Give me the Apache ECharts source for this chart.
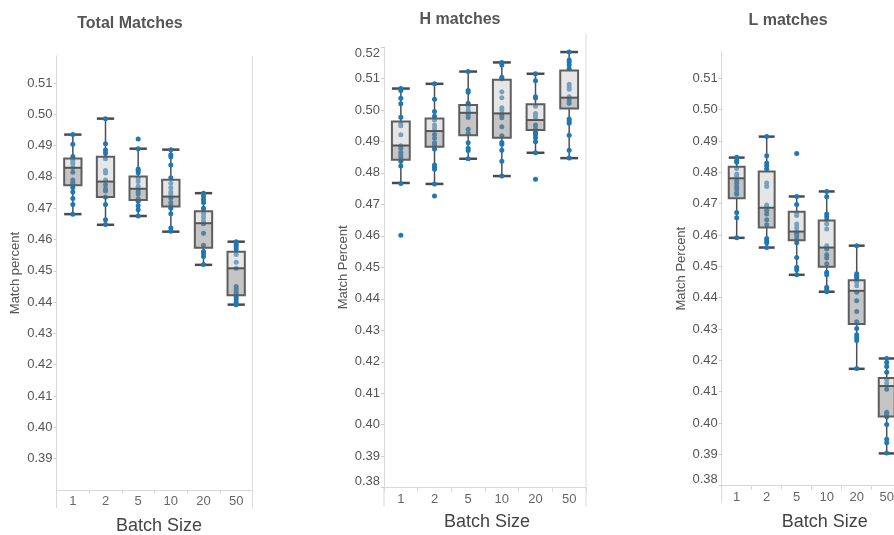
<!DOCTYPE html>
<html><head><meta charset="utf-8">
<script src="https://cdn.jsdelivr.net/npm/echarts@6/dist/echarts.min.js"></script>
<style>html,body{margin:0;padding:0;background:#fff}#c{width:894px;height:535px}</style>
</head><body><div id="c"></div>
<script>
const categories = ['1', '2', '5', '10', '20', '50'];
const panelTitles = ['Total Matches', 'H matches', 'L matches'];
const yAxisNames = ['Match percent', 'Match Percent', 'Match Percent'];
const xAxisName = 'Batch Size';
const yMin = [0.38, 0.38, 0.38];
const yMax = [0.5186, 0.52, 0.5185];

// box stats per batch size: [lower whisker, Q1, median, Q3, upper whisker]
const totalBoxes = [
  [0.4681, 0.4773, 0.4829, 0.4859, 0.4935],
  [0.4647, 0.4736, 0.4785, 0.4864, 0.4986],
  [0.4675, 0.4726, 0.4762, 0.4801, 0.4890],
  [0.4625, 0.4705, 0.4737, 0.4791, 0.4887],
  [0.4519, 0.4574, 0.4652, 0.4690, 0.4748],
  [0.4392, 0.4422, 0.4508, 0.4561, 0.4593]
];
const hBoxes = [
  [0.4768, 0.4842, 0.4887, 0.4963, 0.5068],
  [0.4765, 0.4883, 0.4933, 0.4973, 0.5083],
  [0.4845, 0.4920, 0.4991, 0.5016, 0.5122],
  [0.4790, 0.4912, 0.4989, 0.5096, 0.5151],
  [0.4864, 0.4936, 0.4968, 0.5018, 0.5115],
  [0.4847, 0.5005, 0.5039, 0.5125, 0.5184]
];
const lBoxes = [
  [0.4591, 0.4717, 0.4781, 0.4818, 0.4847],
  [0.4560, 0.4624, 0.4687, 0.4803, 0.4914],
  [0.4473, 0.4583, 0.4611, 0.4674, 0.4723],
  [0.4419, 0.4499, 0.4560, 0.4646, 0.4739],
  [0.4173, 0.4316, 0.4422, 0.4456, 0.4566],
  [0.3903, 0.4021, 0.4118, 0.4144, 0.4206]
];

// individual runs per batch size
const totalPoints = [
  [0.4935, 0.4904, 0.4865, 0.4858, 0.4850, 0.4842, 0.4830, 0.4815, 0.4790, 0.4782, 0.4776, 0.4766, 0.4752, 0.4731, 0.4712, 0.4681],
  [0.4986, 0.4906, 0.4886, 0.4876, 0.4862, 0.4858, 0.4820, 0.4812, 0.4790, 0.4775, 0.4762, 0.4755, 0.4736, 0.4712, 0.4663, 0.4648],
  [0.4921, 0.4890, 0.4825, 0.4820, 0.4813, 0.4795, 0.4785, 0.4770, 0.4760, 0.4752, 0.4745, 0.4730, 0.4722, 0.4708, 0.4695, 0.4675],
  [0.4887, 0.4871, 0.4864, 0.4838, 0.4797, 0.4780, 0.4765, 0.4752, 0.4745, 0.4732, 0.4718, 0.4708, 0.4700, 0.4682, 0.4637, 0.4626],
  [0.4748, 0.4738, 0.4728, 0.4718, 0.4700, 0.4690, 0.4682, 0.4672, 0.4660, 0.4650, 0.4620, 0.4582, 0.4562, 0.4555, 0.4546, 0.4520],
  [0.4593, 0.4585, 0.4578, 0.4570, 0.4552, 0.4527, 0.4508, 0.4450, 0.4443, 0.4436, 0.4428, 0.4418, 0.4410, 0.4400, 0.4392]
];
const hPoints = [
  [0.5068, 0.5062, 0.5037, 0.5020, 0.4977, 0.4955, 0.4950, 0.4921, 0.4886, 0.4878, 0.4865, 0.4857, 0.4849, 0.4837, 0.4822, 0.4766, 0.4602],
  [0.5083, 0.5034, 0.4995, 0.4980, 0.4968, 0.4952, 0.4942, 0.4922, 0.4910, 0.4896, 0.4888, 0.4876, 0.4825, 0.4818, 0.4812, 0.4765, 0.4727],
  [0.5122, 0.5062, 0.5056, 0.5021, 0.5012, 0.5000, 0.4992, 0.4984, 0.4976, 0.4939, 0.4926, 0.4896, 0.4878, 0.4871, 0.4845],
  [0.5151, 0.5143, 0.5104, 0.5098, 0.5058, 0.5039, 0.5007, 0.5000, 0.4989, 0.4982, 0.4975, 0.4947, 0.4918, 0.4897, 0.4891, 0.4872, 0.4837, 0.4790],
  [0.5115, 0.5093, 0.5042, 0.5038, 0.5012, 0.4989, 0.4982, 0.4975, 0.4952, 0.4940, 0.4929, 0.4922, 0.4912, 0.4899, 0.4864, 0.4780],
  [0.5184, 0.5159, 0.5152, 0.5143, 0.5131, 0.5082, 0.5074, 0.5066, 0.5042, 0.5032, 0.5021, 0.4971, 0.4965, 0.4958, 0.4920, 0.4872, 0.4847]
];
const lPoints = [
  [0.4848, 0.4838, 0.4832, 0.4812, 0.4795, 0.4790, 0.4783, 0.4773, 0.4765, 0.4755, 0.4747, 0.4736, 0.4730, 0.4672, 0.4655, 0.4591],
  [0.4914, 0.4853, 0.4830, 0.4821, 0.4811, 0.4766, 0.4755, 0.4696, 0.4690, 0.4678, 0.4667, 0.4649, 0.4633, 0.4589, 0.4582, 0.4575, 0.4560],
  [0.4860, 0.4723, 0.4697, 0.4670, 0.4662, 0.4635, 0.4624, 0.4612, 0.4606, 0.4598, 0.4587, 0.4575, 0.4528, 0.4497, 0.4489, 0.4473],
  [0.4739, 0.4722, 0.4667, 0.4658, 0.4648, 0.4635, 0.4619, 0.4566, 0.4555, 0.4537, 0.4527, 0.4508, 0.4481, 0.4473, 0.4433, 0.4425, 0.4419],
  [0.4566, 0.4476, 0.4470, 0.4465, 0.4458, 0.4450, 0.4438, 0.4417, 0.4390, 0.4356, 0.4323, 0.4302, 0.4282, 0.4273, 0.4263, 0.4174],
  [0.4206, 0.4193, 0.4180, 0.4162, 0.4140, 0.4128, 0.4108, 0.4034, 0.4027, 0.4020, 0.3995, 0.3948, 0.3937, 0.3904]
];

const boxSets = [totalBoxes, hBoxes, lBoxes];
const pointSets = [totalPoints, hPoints, lPoints];

// layout (pixels)
const FONT = '"Liberation Sans", Arial, sans-serif';
const grids = [
  {left: 56.5, top: 56, width: 196, height: 434},
  {left: 384, top: 47, width: 202, height: 440.7},
  {left: 721.7, top: 51.7, width: 180, height: 434}
];
const titlePos = [{x: 130, y: 16}, {x: 460, y: 12}, {x: 788, y: 13}];
const yNameGap = [35, 34, 34];
const xNameGap = [27, 25.5, 27];
const xNamePad = [9, 4, 26];
const showMin = [false, true, true];
const showMax = [false, true, false];
const frameTop = [56, 33, null];
const frameBottomExt = [18, 19, 17.3];

const BOX_FRAC = 0.53;

function whiskerItem(params, api) {
  const x = api.value(0);
  const band = api.size([1, 0])[0];
  const w = band * BOX_FRAC;
  const pLo = api.coord([x, api.value(1)]);
  const pQ1 = api.coord([x, api.value(2)]);
  const pQ3 = api.coord([x, api.value(4)]);
  const pHi = api.coord([x, api.value(5)]);
  const cx = pLo[0];
  const ls = {stroke: '#4f4f4f', lineWidth: 1.5};
  const cs = {stroke: '#4a4a4a', lineWidth: 2.5};
  return {type: 'group', children: [
    {type: 'line', shape: {x1: cx, y1: pHi[1], x2: cx, y2: pQ3[1]}, style: ls},
    {type: 'line', shape: {x1: cx, y1: pQ1[1], x2: cx, y2: pLo[1]}, style: ls},
    {type: 'line', shape: {x1: cx - w / 2, y1: pHi[1], x2: cx + w / 2, y2: pHi[1]}, style: cs},
    {type: 'line', shape: {x1: cx - w / 2, y1: pLo[1], x2: cx + w / 2, y2: pLo[1]}, style: cs}
  ]};
}

function boxItem(params, api) {
  const x = api.value(0);
  const band = api.size([1, 0])[0];
  const w = band * BOX_FRAC;
  const pQ1 = api.coord([x, api.value(2)]);
  const pMed = api.coord([x, api.value(3)]);
  const pQ3 = api.coord([x, api.value(4)]);
  const cx = pMed[0];
  const x0 = cx - w / 2;
  return {type: 'group', children: [
    {type: 'rect', shape: {x: x0, y: pMed[1], width: w, height: pQ1[1] - pMed[1]},
      style: {fill: 'rgba(140,140,140,0.5)'}},
    {type: 'rect', shape: {x: x0, y: pQ3[1], width: w, height: pMed[1] - pQ3[1]},
      style: {fill: 'rgba(205,205,205,0.5)'}},
    {type: 'rect', shape: {x: x0, y: pQ3[1], width: w, height: pQ1[1] - pQ3[1]},
      style: {fill: 'none', stroke: '#5e5e5e', lineWidth: 2}},
    {type: 'line', shape: {x1: x0, y1: pMed[1], x2: x0 + w, y2: pMed[1]},
      style: {stroke: '#555', lineWidth: 2}}
  ]};
}

const option = {
  animation: false,
  backgroundColor: '#fff',
  textStyle: {fontFamily: FONT},
  title: panelTitles.map((t, i) => ({
    text: t, left: titlePos[i].x, top: titlePos[i].y, padding: 0, textAlign: 'center',
    textStyle: {fontSize: 16, fontWeight: 'bold', color: '#555', fontFamily: FONT}
  })),
  grid: grids.map(g => Object.assign({containLabel: false, outerBoundsMode: 'none'}, g)),
  xAxis: grids.map((g, i) => ({
    gridIndex: i, type: 'category', data: categories, boundaryGap: true,
    name: xAxisName, nameLocation: 'middle', nameGap: xNameGap[i],
    nameTextStyle: {fontSize: 18, color: '#444', fontFamily: FONT, padding: [0, 0, 0, xNamePad[i]]},
    axisLine: {show: true, lineStyle: {color: '#d9d9d9', width: 1}},
    axisTick: {show: true, length: 4, lineStyle: {color: '#d9d9d9'}},
    axisLabel: {fontSize: 13, color: '#666', margin: 5, fontFamily: FONT},
    splitLine: {show: false}
  })),
  yAxis: grids.map((g, i) => ({
    gridIndex: i, type: 'value', min: yMin[i], max: yMax[i], interval: 0.01,
    name: yAxisNames[i], nameLocation: 'middle', nameGap: yNameGap[i], nameRotate: 90,
    nameTextStyle: {fontSize: 13, color: '#555', fontFamily: FONT},
    axisLine: {show: true, lineStyle: {color: '#d9d9d9', width: 1}},
    axisTick: {show: true, length: 3, lineStyle: {color: '#cccccc'}},
    axisLabel: {
      fontSize: 13, color: '#555', margin: 4, fontFamily: FONT,
      formatter: v => Number(v).toFixed(2),
      showMinLabel: showMin[i], showMaxLabel: showMax[i],
      verticalAlignMinLabel: 'bottom', verticalAlignMaxLabel: 'top'
    },
    splitLine: {show: false}
  })),
  series: []
};

boxSets.forEach((boxes, i) => {
  const boxData = boxes.map((b, k) => [k].concat(b));
  option.series.push({
    type: 'custom', xAxisIndex: i, yAxisIndex: i, z: 1,
    renderItem: whiskerItem, data: boxData,
    encode: {x: 0, y: [1, 2, 3, 4, 5]}, silent: true
  });
  const pts = [];
  pointSets[i].forEach((arr, k) => arr.forEach(v => pts.push([k, v])));
  option.series.push({
    type: 'scatter', xAxisIndex: i, yAxisIndex: i, z: 2,
    symbolSize: 5, data: pts,
    itemStyle: {color: '#1f77b4', opacity: 1}
  });
  option.series.push({
    type: 'custom', xAxisIndex: i, yAxisIndex: i, z: 3,
    renderItem: boxItem, data: boxData,
    encode: {x: 0, y: [1, 2, 3, 4, 5]}, silent: true
  });
});

// frame lines (layout decoration)
const graphics = [];
grids.forEach((g, i) => {
  const bottom = g.top + g.height;
  graphics.push({type: 'line', silent: true, z: 0,
    shape: {x1: g.left, y1: bottom, x2: g.left, y2: bottom + frameBottomExt[i]},
    style: {stroke: '#d9d9d9', lineWidth: 1}});
  if (frameTop[i] !== null) {
    const rx = g.left + g.width;
    graphics.push({type: 'line', silent: true, z: 0,
      shape: {x1: rx, y1: frameTop[i], x2: rx, y2: bottom + frameBottomExt[i]},
      style: {stroke: '#d9d9d9', lineWidth: 1}});
  }
});
option.graphic = graphics;

const chart = echarts.init(document.getElementById('c'), null, {renderer: 'canvas'});
chart.setOption(option);
</script>
</body></html>
